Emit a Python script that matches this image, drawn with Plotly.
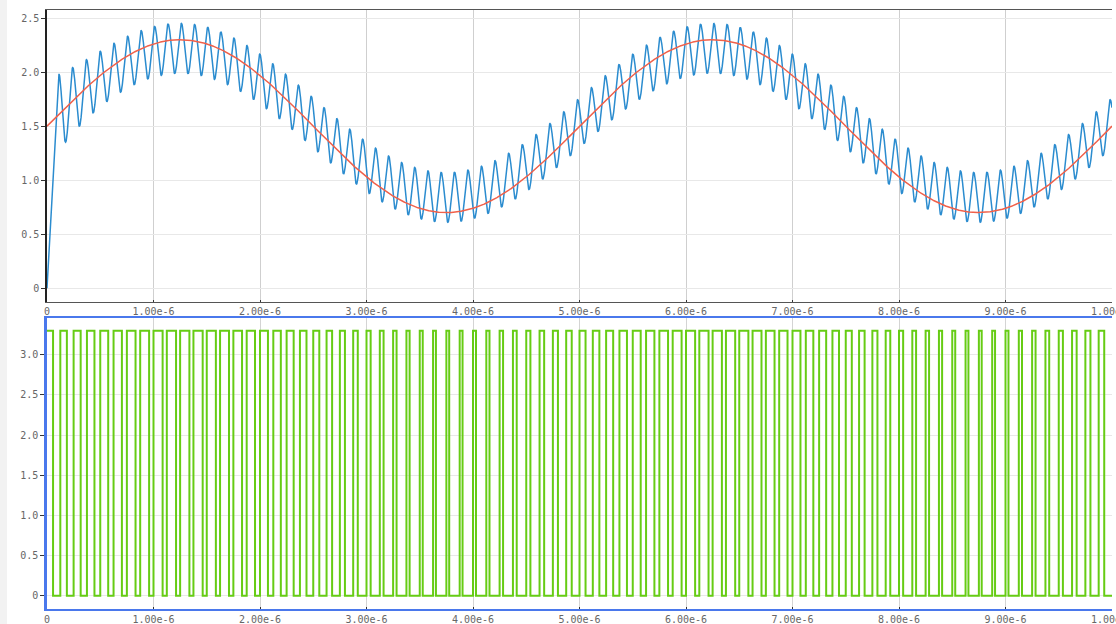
import numpy as np
import plotly.graph_objects as go

# ---- signal parameters ----
T_END = 10e-6          # s, x-axis span
PWM_FREQ = 8e6         # Hz, 80 PWM periods in 10 us
VCC = 3.3              # V, PWM high level
REF_OFFSET = 1.5       # V, red reference sine
REF_AMP = 0.8
REF_FREQ = 200e3       # Hz (period 5 us)
OUT_OFFSET = 1.53      # V, blue filtered output
OUT_AMP = 0.69
RIPPLE_AMP = 0.23
RIPPLE_EXTRA = 0.2
RIPPLE_DECAY = 0.25e-6
RIPPLE_LAG = 0.4       # fraction of a PWM period after pulse end

x_tick_vals = [0, 1e-6, 2e-6, 3e-6, 4e-6, 5e-6, 6e-6, 7e-6, 8e-6, 9e-6, 1e-5]
x_tick_text = ["0", "1.00e-6", "2.00e-6", "3.00e-6", "4.00e-6", "5.00e-6",
               "6.00e-6", "7.00e-6", "8.00e-6", "9.00e-6", "1.00e-5"]
y1_tick_vals = [0, 0.5, 1.0, 1.5, 2.0, 2.5]
y1_tick_text = ["0", "0.5", "1.0", "1.5", "2.0", "2.5"]
y2_tick_vals = [0, 0.5, 1.0, 1.5, 2.0, 2.5, 3.0]
y2_tick_text = ["0", "0.5", "1.0", "1.5", "2.0", "2.5", "3.0"]

# ---- build series ----
t = np.linspace(0, T_END, 4001)
ref = REF_OFFSET + REF_AMP * np.sin(2 * np.pi * REF_FREQ * t)

duty_t = ref / VCC
phase = t * PWM_FREQ - duty_t - RIPPLE_LAG
ripple = (RIPPLE_AMP + RIPPLE_EXTRA * np.exp(-t / RIPPLE_DECAY)) * np.cos(2 * np.pi * phase)
center = OUT_OFFSET + OUT_AMP * np.sin(2 * np.pi * REF_FREQ * t)
out = center + ripple
# output starts from 0 V and climbs straight to the first ripple peak
period = 1 / PWM_FREQ
first_period = t <= period
i_pk = int(np.argmax(np.where(first_period, out, -np.inf)))
out[:i_pk] = out[i_pk] * t[:i_pk] / t[i_pk]

n_periods = int(round(T_END * PWM_FREQ))
pwm_x, pwm_y = [], []
for k in range(n_periods):
    tk = k * period
    d = (REF_OFFSET + REF_AMP * np.sin(2 * np.pi * REF_FREQ * tk)) / VCC
    te = tk + d * period
    pwm_x += [tk, te, te, tk + period]
    pwm_y += [VCC, VCC, 0, 0]

fig = go.Figure()
fig.add_trace(go.Scatter(x=t, y=out, mode="lines", line=dict(color="#2b8ccf", width=1.5),
                         xaxis="x", yaxis="y", showlegend=False))
fig.add_trace(go.Scatter(x=t, y=ref, mode="lines", line=dict(color="#f0604a", width=1.5),
                         xaxis="x", yaxis="y", showlegend=False))
fig.add_trace(go.Scatter(x=pwm_x, y=pwm_y, mode="lines", line=dict(color="#66cc14", width=2),
                         xaxis="x2", yaxis="y2", showlegend=False))

tick_font = dict(family="DejaVu Sans Mono", size=10, color="#666666")
blue_frame = "#4a78ec"

common_x = dict(range=[0, T_END], tickvals=x_tick_vals, ticktext=x_tick_text, showgrid=True,
                zeroline=False, showline=True, mirror=True, ticks="inside", ticklen=2,
                tickcolor="#333333", tickfont=tick_font, automargin=False,
                ticklabeloverflow="allow")
common_y = dict(showgrid=True, gridcolor="#e8e8e8", zeroline=False, showline=True,
                ticks="outside", ticklen=4, tickcolor="#333333", tickfont=tick_font,
                automargin=False)

fig.update_layout(
    width=1116, height=624,
    margin=dict(l=47, r=4, t=10, b=15),
    paper_bgcolor="white", plot_bgcolor="white",
    xaxis=dict(domain=[0, 1], anchor="y", gridcolor="#cfcfcf", linecolor="#555555",
               linewidth=1, **common_x),
    yaxis=dict(domain=[0.513, 1], anchor="x", range=[-0.125, 2.575], tickvals=y1_tick_vals,
               ticktext=y1_tick_text, linecolor="#222222", linewidth=1.5, **common_y),
    xaxis2=dict(domain=[0, 1], anchor="y2", gridcolor="#d4d4d4", linecolor=blue_frame,
                linewidth=1.5, **common_x),
    yaxis2=dict(domain=[0, 0.4853], anchor="x2", range=[-0.165, 3.455], tickvals=y2_tick_vals,
                ticktext=y2_tick_text, linecolor=blue_frame, linewidth=2.5, **common_y),
    shapes=[
        dict(type="rect", xref="paper", yref="paper", x0=-47 / 1065, x1=-40 / 1065,
             y0=-15 / 599, y1=1 + 10 / 599, fillcolor="#f2f2f2", line=dict(width=0), layer="below"),
    ],
)

fig.write_html("out.html")
